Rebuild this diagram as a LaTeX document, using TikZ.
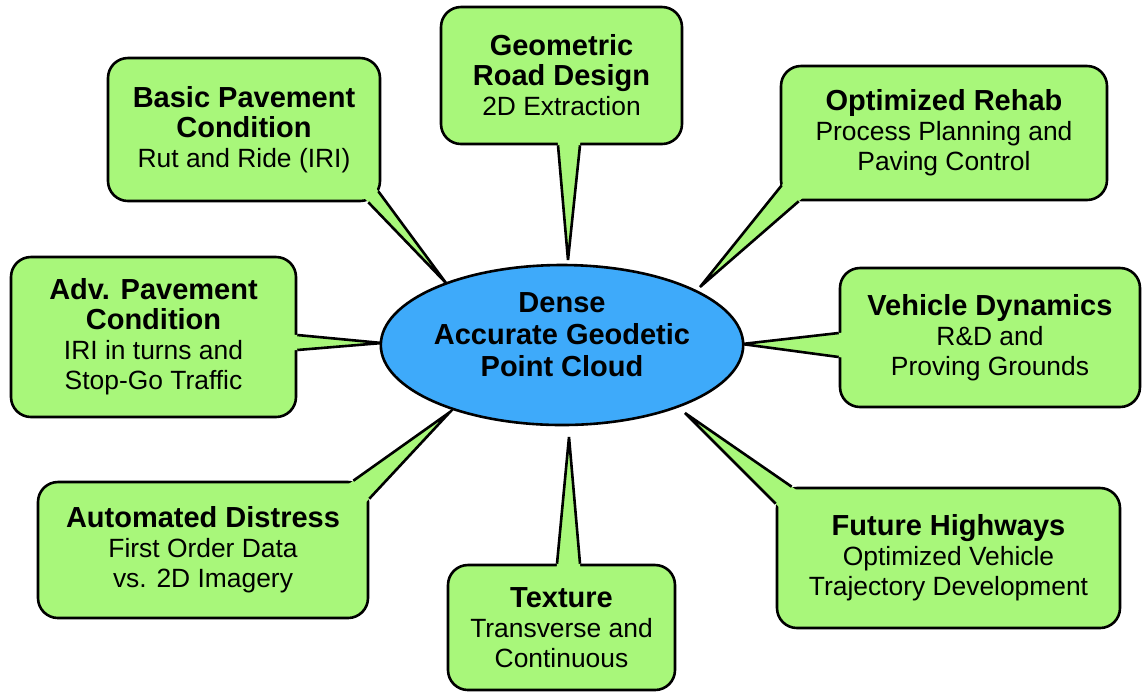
\documentclass[tikz,border=0pt]{standalone}
\usepackage{fontspec}
\setmainfont{Liberation Sans}
\usetikzlibrary{shapes.geometric,calc}

\definecolor{boxgreen}{RGB}{168,247,122}
\definecolor{cloudblue}{RGB}{62,170,250}

% bold heading line inside a callout
\newcommand\calloutHead[1]{{\fontsize{14.5}{15}\selectfont\bfseries #1}}

% wedge from two base points on a box to a tip: fill reaches a little
% inside the box so the box border between the base points disappears
\newcommand\calloutWedge[3]{%
  \fill[boxgreen] ($(#1)!-5pt!(#2)$) -- (#2) -- ($(#3)!-5pt!(#2)$) -- cycle;
  \draw[wedgeline] (#1) -- (#2) -- (#3);}

\begin{document}
\begin{tikzpicture}[x=0.5pt,y=-0.5pt,
  callout/.style={draw, fill=boxgreen, line width=1.3pt, rounded corners=10pt,
    align=center, inner sep=0pt, font=\fontsize{13.2}{15}\selectfont},
  wedgeline/.style={line width=1.3pt, line join=miter},
  hub/.style={ellipse, draw, fill=cloudblue, line width=1.3pt, inner sep=0pt,
    align=center, minimum width=180pt, minimum height=80pt, text depth=10pt,
    font=\fontsize{14.5}{16}\selectfont\bfseries}]
\useasboundingbox (0,0) rectangle (1145,693);

% the eight callout boxes
\node[callout, minimum width=120.5pt, minimum height=68.5pt] (geo) at (561.5,75.5)
  {\calloutHead{Geometric}\\\calloutHead{Road Design}\\2D Extraction};
\node[callout, minimum width=136pt, minimum height=71.5pt] (basic) at (244,129.5)
  {\calloutHead{Basic Pavement}\\\calloutHead{Condition}\\Rut and Ride (IRI)};
\node[callout, minimum width=163pt, minimum height=67pt] (rehab) at (944,133)
  {\calloutHead{Optimized Rehab}\\Process Planning and\\Paving Control};
\node[callout, minimum width=142.5pt, minimum height=80pt] (adv) at (153.5,337)
  {\calloutHead{Adv. Pavement}\\\calloutHead{Condition}\\IRI in turns and\\Stop-Go Traffic};
\node[callout, minimum width=150pt, minimum height=69.5pt] (veh) at (990,337.5)
  {\calloutHead{Vehicle Dynamics}\\R\&D and\\Proving Grounds};
\node[callout, minimum width=165pt, minimum height=68pt] (auto) at (203,550)
  {\calloutHead{Automated Distress}\\First Order Data\\vs. 2D Imagery};
\node[callout, minimum width=113.5pt, minimum height=62.5pt] (tex) at (561.5,627.5)
  {\calloutHead{Texture}\\Transverse and\\Continuous};
\node[callout, minimum width=171.5pt, minimum height=70pt] (fut) at (948.5,558)
  {\calloutHead{Future Highways}\\Optimized Vehicle\\Trajectory Development};

% base points of the wedges on the boxes
\coordinate (geoA) at ($(geo.south)+(-3.5,0)$);
\coordinate (geoB) at ($(geo.south)+(18.5,0)$);
\coordinate (basA) at ($(basic.south east)+(-3,-11)$);
\coordinate (basB) at ($(basic.south east)+(-13,0)$);
\coordinate (rehA) at ($(rehab.south west)+(2,-16)$);
\coordinate (rehB) at ($(rehab.south west)+(19,0)$);
\coordinate (advA) at ($(adv.east)+(0,-2)$);
\coordinate (advB) at ($(adv.east)+(0,13)$);
\coordinate (vehA) at ($(veh.west)+(0,-4.5)$);
\coordinate (vehB) at ($(veh.west)+(0,19.5)$);
\coordinate (autA) at ($(auto.north east)+(-16,0)$);
\coordinate (autB) at ($(auto.north east)+(0,18)$);
\coordinate (texA) at ($(tex.north)+(-4.5,0)$);
\coordinate (texB) at ($(tex.north)+(18.5,0)$);
\coordinate (futA) at ($(fut.north west)+(16,0)$);
\coordinate (futB) at ($(fut.north west)+(0,17)$);

% wedge tips around the central ellipse
\coordinate (geoT) at (568,260);
\coordinate (basT) at (446,283);
\coordinate (rehT) at (700,287);
\coordinate (advT) at (382,343);
\coordinate (vehT) at (742,344);
\coordinate (autT) at (450,412);
\coordinate (texT) at (569,437);
\coordinate (futT) at (685,413);

\calloutWedge{geoA}{geoT}{geoB}
\calloutWedge{basA}{basT}{basB}
\calloutWedge{rehA}{rehT}{rehB}
\calloutWedge{advA}{advT}{advB}
\calloutWedge{vehA}{vehT}{vehB}
\calloutWedge{autA}{autT}{autB}
\calloutWedge{texA}{texT}{texB}
\calloutWedge{futA}{futT}{futB}

% central ellipse
\node[hub] (cloud) at (562,345) {Dense\\Accurate Geodetic\\Point Cloud};
\end{tikzpicture}
\end{document}
